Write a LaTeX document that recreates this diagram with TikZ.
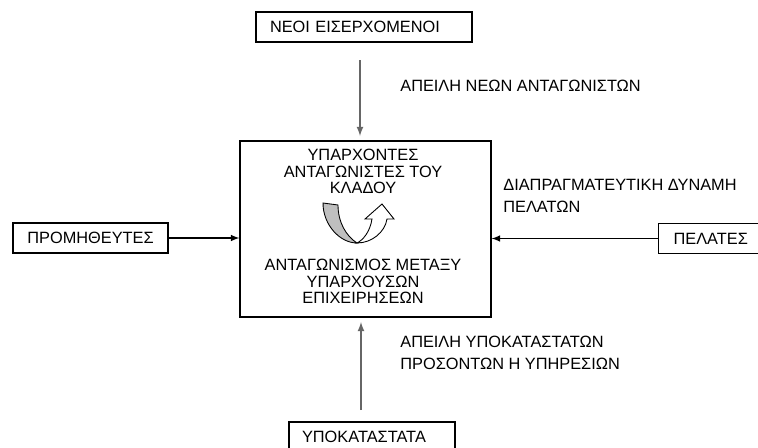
\documentclass[tikz,border=0pt]{standalone}
\usepackage{fontspec}
\setmainfont{Liberation Sans}
\usepackage{tikz}

\tikzset{
  box/.style={draw, line width=0.7pt, minimum height=0.6cm, inner ysep=0pt, font=\fontsize{9.3}{9.3}\selectfont},
  lbl/.style={anchor=west, align=left, inner sep=0pt, font=\fontsize{9.3}{12.5}\selectfont},
  ctr/.style={align=center, inner sep=0pt, font=\fontsize{9.3}{9.3}\selectfont},
  vline/.style={draw=black!60, line width=0.8pt, -latex, shorten >=2.5pt},
  hline/.style={line width=0.7pt, -latex}
}

\begin{document}
\begin{tikzpicture}[x=0.02cm, y=-0.02cm]
  \useasboundingbox (0,0) rectangle (758,447);
  \node[box, text width=3.76cm, inner xsep=0.28cm, align=left] (new) at (364,27) {ΝΕΟΙ ΕΙΣΕΡΧΟΜΕΝΟΙ};
  \node[box, minimum width=3.1cm] (sup) at (90.5,238) {ΠΡΟΜΗΘΕΥΤΕΣ};
  \node[box, anchor=west, text width=1.8cm, inner xsep=0.3cm, align=left] (cust) at (658,238.5) {ΠΕΛΑΤΕΣ};
  \node[box, text width=2.8cm, inner xsep=0.26cm, align=left] (sub) at (372,437) {ΥΠΟΚΑΤΑΣΤΑΤΑ};
  \node[draw, line width=0.7pt, minimum width=5.02cm, minimum height=3.52cm] (main) at (365.5,229) {};
  \node[ctr] (incumb) at (363,171.5) {ΥΠΑΡΧΟΝΤΕΣ\\ΑΝΤΑΓΩΝΙΣΤΕΣ ΤΟΥ\\ΚΛΑΔΟΥ};
  \node[ctr] (rivalry) at (363,281.5) {ΑΝΤΑΓΩΝΙΣΜΟΣ ΜΕΤΑΞΥ\\ΥΠΑΡΧΟΥΣΩΝ\\ΕΠΙΧΕΙΡΗΣΕΩΝ};
  \node[lbl] (threatnew) at (400,86) {ΑΠΕΙΛΗ ΝΕΩΝ ΑΝΤΑΓΩΝΙΣΤΩΝ};
  \node[lbl] (buyerpow) at (503,196) {ΔΙΑΠΡΑΓΜΑΤΕΥΤΙΚΗ ΔΥΝΑΜΗ\\ΠΕΛΑΤΩΝ};
  \node[lbl] (threatsub) at (400,352.5) {ΑΠΕΙΛΗ ΥΠΟΚΑΤΑΣΤΑΤΩΝ\\ΠΡΟΣΟΝΤΩΝ Η ΥΠΗΡΕΣΙΩΝ};
  \coordinate (topin) at (360,60);
  \coordinate (botin) at (361,410);
  \draw[vline] (topin) -- (topin |- main.north);
  \draw[vline] (botin) -- (botin |- main.south);
  \draw[hline] (sup.east) -- (sup.east -| main.west);
  \draw[hline] (cust.west) -- (cust.west -| main.east);
  \draw[fill=black!25, line width=0.5pt] (323,203) .. controls (323,225) and (340,243) .. (357,243)
    .. controls (346,236) and (338,222) .. (338,205) -- cycle;
  \draw[fill=white, line width=0.5pt] (357,243) .. controls (372,243) and (385,232) .. (387,219)
    -- (394,219) -- (382,204) -- (365,219) -- (372,219) .. controls (370,232) and (363,240) .. (357,243) -- cycle;
\end{tikzpicture}
\end{document}
